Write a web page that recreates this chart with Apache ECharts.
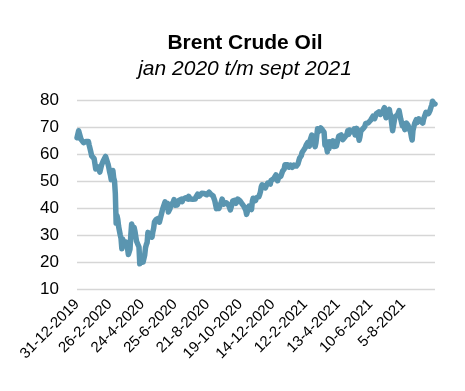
<!DOCTYPE html>
<html>
<head>
<meta charset="utf-8">
<script src="https://cdn.jsdelivr.net/npm/echarts@6/dist/echarts.min.js"></script>
<style>html,body{margin:0;padding:0;background:#fff;}#c{width:465px;height:391px;}</style>
</head>
<body>
<div id="c"></div>
<script>
// Tick labels (every 40 trading days)
const tickLabels = ['31-12-2019','26-2-2020','24-4-2020','25-6-2020','21-8-2020','19-10-2020','14-12-2020','12-2-2021','13-4-2021','10-6-2021','5-8-2021'];
const labelStep = 40;

// Daily Brent values, in blocks of 40 trading days starting at each tick label
const seg0 = [66.0,66.25,68.6,68.9,68.3,65.4,65.4,65.0,64.2,64.5,64.0,64.6,64.85,65.2,64.6,63.2,62.0,60.7,59.3,59.5,59.8,58.3,58.2,54.45,53.96,55.3,55.9,54.5,53.3,54.0,55.8,56.3,57.3,57.7,57.75,59.1,59.3,58.5,56.3,55.0];
const seg1 = [53.4,52.2,50.5,51.9,53.9,51.1,49.99,45.3,34.4,37.2,35.8,33.2,33.85,30.05,28.7,24.9,28.5,26.98,27.03,27.15,27.39,26.34,24.93,22.76,22.74,24.74,29.94,34.11,33.05,31.87,32.84,31.48,29.6,27.69,27.82,28.08,25.57,19.33,20.37,21.33];
const seg2 = [21.44,19.99,20.46,22.54,25.27,26.44,27.2,30.97,29.72,29.46,29.63,29.98,29.19,31.13,32.5,34.81,34.65,35.75,36.06,35.13,36.17,34.74,35.29,35.33,38.32,39.57,39.79,39.99,42.3,40.8,41.18,41.73,38.55,38.73,39.72,40.96,40.71,41.51,42.19,43.08];
const seg3 = [41.05,41.02,41.71,41.15,42.03,42.8,42.92,43.08,43.29,42.35,43.24,42.72,42.9,43.79,43.37,43.14,43.28,44.32,44.29,43.31,43.34,43.41,43.22,43.75,43.0,43.3,44.15,44.43,45.17,45.09,44.4,44.99,44.5,45.43,44.96,44.8,45.37,45.46,45.37,44.9];
const seg4 = [44.35,45.13,45.86,45.64,45.09,45.81,45.58,44.43,44.07,42.66,42.01,39.78,40.79,40.06,39.83,39.61,40.53,42.22,43.3,43.15,41.44,41.72,41.77,41.94,41.92,42.43,41.03,40.95,39.27,39.27,41.29,42.65,41.99,43.34,42.85,41.72,42.45,43.32,43.16,42.93];
const seg5 = [42.62,43.16,41.73,42.46,41.77,40.46,41.2,39.12,37.65,37.46,39.71,40.71,41.23,40.93,39.45,42.4,43.61,43.8,43.53,42.78,43.82,43.75,44.34,44.2,44.96,46.06,47.86,48.61,47.8,48.18,47.59,47.42,48.25,48.71,49.25,48.79,48.84,48.86,50.25,49.97];
const seg6 = [50.29,50.76,51.08,51.5,52.26,50.91,50.08,51.2,51.09,51.34,51.8,51.09,53.6,54.3,54.38,55.99,55.66,56.58,56.06,56.42,55.1,54.75,55.9,56.08,55.1,55.41,55.88,55.91,56.0,55.53,55.88,56.35,57.46,58.46,58.84,59.34,60.56,61.09,61.47,61.6];
const seg7 = [62.43,63.3,63.35,64.34,63.93,62.91,65.24,65.37,67.04,66.88,66.13,63.69,62.7,64.07,66.74,69.36,68.24,67.52,67.9,69.63,69.22,68.88,68.39,68.0,63.28,64.53,64.62,60.79,64.41,61.95,64.57,64.98,64.14,63.54,64.86,62.74,63.16,63.2,62.95,63.28];
const seg8 = [63.67,66.58,66.94,66.77,67.05,66.57,65.32,65.4,66.11,65.65,66.42,67.27,68.56,67.25,68.88,68.96,68.09,68.28,68.32,68.55,69.32,67.05,68.71,69.46,68.71,66.66,65.11,66.44,68.46,68.65,68.87,69.46,69.63,70.25,71.35,71.31,71.89,71.49,72.22,72.22];
const seg9 = [72.52,72.69,72.86,73.99,74.39,73.08,73.51,74.9,74.81,75.19,75.56,76.18,74.68,74.76,74.62,75.84,76.17,77.16,74.53,73.43,74.12,75.55,75.16,76.49,74.76,73.47,73.59,68.62,69.35,72.23,73.79,74.1,74.5,74.48,74.74,76.05,76.33,72.89,72.41,70.38];
const seg10 = [71.29,70.7,69.04,70.63,71.44,71.31,70.59,69.51,69.03,68.23,66.45,65.18,68.75,70.05,71.25,70.79,72.7,71.63,71.59,73.03,72.61,72.22,71.69,72.6,71.45,72.92,73.51,73.6,75.46,75.67,75.34,74.92,74.36,76.19,77.25,78.09,79.53,79.09,78.64,78.52];

const values = [].concat(seg0,seg1,seg2,seg3,seg4,seg5,seg6,seg7,seg8,seg9,seg10);
const categories = values.map((v, i) => String(i));

const chart = echarts.init(document.getElementById('c'), null, {renderer: 'canvas'});
chart.setOption({
  animation: false,
  backgroundColor: '#ffffff',
  title: [
    {text: 'Brent Crude Oil', left: 245, top: 33, padding: 0, textAlign: 'center',
     textStyle: {fontFamily: 'Liberation Sans', fontSize: 21, fontWeight: 'bold', color: '#000'}},
    {text: 'jan 2020 t/m sept 2021', left: 245, top: 59, padding: 0, textAlign: 'center',
     textStyle: {fontFamily: 'Liberation Sans', fontSize: 21, fontStyle: 'italic', fontWeight: 'normal', color: '#000'}}
  ],
  grid: {left: 77, right: 30, top: 100, bottom: 102, containLabel: false},
  xAxis: {
    type: 'category',
    data: categories,
    boundaryGap: false,
    axisLine: {show: false},
    axisTick: {show: false},
    splitLine: {show: false},
    axisLabel: {
      interval: (i) => i % labelStep === 0,
      rotate: 45,
      margin: 13,
      fontFamily: 'Liberation Sans',
      fontSize: 15,
      color: '#000',
      formatter: (v, i) => tickLabels[Math.round(i / labelStep)] || ''
    }
  },
  yAxis: {
    type: 'value',
    min: 10, max: 80, interval: 10,
    axisLine: {show: false},
    axisTick: {show: false},
    axisLabel: {margin: 18, fontFamily: 'Liberation Sans', fontSize: 17, color: '#000'},
    splitLine: {show: true, lineStyle: {color: '#d6d6d6', width: 1.3}}
  },
  series: [{
    type: 'line',
    data: values,
    symbol: 'none',
    lineStyle: {color: '#5a95b0', width: 5.5, cap: 'round', join: 'round'},
    itemStyle: {color: '#5a95b0'}
  }]
});
</script>
</body>
</html>
